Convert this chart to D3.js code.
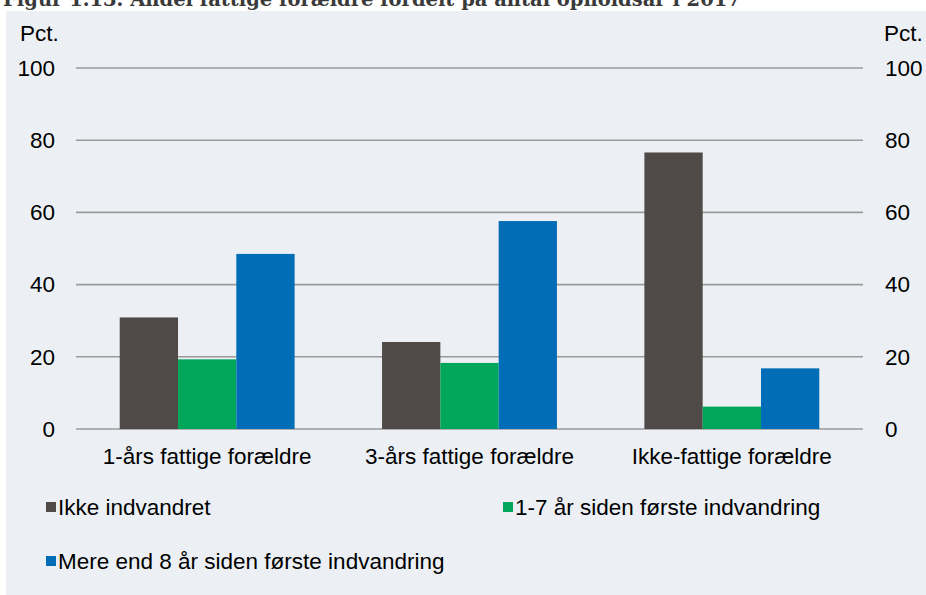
<!DOCTYPE html>
<html>
<head>
<meta charset="utf-8">
<script src="https://cdn.jsdelivr.net/npm/d3@7"></script>
<style>
  html, body { margin: 0; padding: 0; background: #ffffff; }
  svg { display: block; }
  text { font-family: "Liberation Sans", Arial, sans-serif; fill: #000; }
</style>
</head>
<body>
<svg id="chart" width="926" height="595"></svg>
<script>
// Andel fattige forældre fordelt på opholdsår
const categories = ["1-års fattige forældre", "3-års fattige forældre", "Ikke-fattige forældre"];
const seriesNames = ["Ikke indvandret", "1-7 år siden første indvandring", "Mere end 8 år siden første indvandring"];
const ikkeIndvandret = [30.9, 24.1, 76.6];
const aar1til7 = [19.3, 18.3, 6.2];
const merEnd8 = [48.5, 57.6, 16.8];
const yTicks = [0, 20, 40, 60, 80, 100];
const colors = ["#4F4A47", "#00A65A", "#006DB6"];

const seriesValues = [ikkeIndvandret, aar1til7, merEnd8];
const rows = categories.map((c, i) => ({ cat: c, values: seriesValues.map(s => s[i]) }));

const FONT = "'Liberation Sans', Arial, sans-serif";
const FS = "22.5px";

const svg = d3.select("#chart");

// figure title above the panel
svg.append("text")
  .attr("x", 3).attr("y", 6)
  .style("font-family", "'DejaVu Serif', 'Liberation Serif', serif")
  .style("font-weight", "bold")
  .style("font-size", "19.5px")
  .style("fill", "#3a3a3a")
  .text("Figur 1.13. Andel fattige forældre fordelt på antal opholdsår i 2017");

// panel background
svg.append("rect")
  .attr("x", 6).attr("y", 11).attr("width", 920).attr("height", 584)
  .attr("fill", "#ECF0F4");

const x0 = d3.scaleBand().domain(categories).range([76, 863]).paddingInner(0).paddingOuter(0);
const x1 = d3.scaleBand().domain(d3.range(seriesNames.length)).range([0, x0.bandwidth()]).paddingInner(0).paddingOuter(0.75);
const y = d3.scaleLinear().domain([0, 100]).range([429, 68]);

// gridlines
svg.append("g").selectAll("line").data(yTicks).join("line")
  .attr("x1", 76).attr("x2", 863)
  .attr("y1", d => y(d)).attr("y2", d => y(d))
  .attr("stroke", "#9a9a9a").attr("stroke-width", 1.6);

// left axis labels
const leftAxis = d3.axisLeft(y).tickValues(yTicks).tickSize(0).tickPadding(0);
const gl = svg.append("g").attr("transform", "translate(55,0)").call(leftAxis);
gl.select(".domain").remove();
gl.selectAll("text").attr("x", 0).style("font-size", FS).style("font-family", FONT).attr("fill", "#000");

// right axis labels
const rightAxis = d3.axisRight(y).tickValues(yTicks).tickSize(0).tickPadding(0);
const gr = svg.append("g").attr("transform", "translate(885,0)").call(rightAxis);
gr.select(".domain").remove();
gr.selectAll("text").attr("x", 0).style("font-size", FS).style("font-family", FONT).attr("fill", "#000");

// unit labels
svg.append("text").attr("x", 20).attr("y", 41).style("font-size", FS).text("Pct.");
svg.append("text").attr("x", 884).attr("y", 41).style("font-size", FS).text("Pct.");

// bars
const groups = svg.append("g").selectAll("g").data(rows).join("g")
  .attr("transform", d => `translate(${x0(d.cat)},0)`);
groups.selectAll("rect").data(d => d.values.map((v, i) => ({ v, i }))).join("rect")
  .attr("x", d => x1(d.i))
  .attr("width", x1.bandwidth())
  .attr("y", d => y(d.v))
  .attr("height", d => y(0) - y(d.v))
  .attr("fill", d => colors[d.i]);

// category axis
const bottomAxis = d3.axisBottom(x0).tickSize(0).tickPadding(0);
const gb = svg.append("g").attr("transform", "translate(0,448)").call(bottomAxis);
gb.select(".domain").remove();
gb.selectAll("text").style("font-size", FS).style("font-family", FONT).attr("fill", "#000");

// legend
const legendPos = [[46, 507], [503, 507], [46, 561]];
const lg = svg.append("g").selectAll("g").data(seriesNames).join("g")
  .attr("transform", (d, i) => `translate(${legendPos[i][0]},${legendPos[i][1]})`);
lg.append("rect").attr("x", 0).attr("y", -5).attr("width", 10).attr("height", 10)
  .attr("fill", (d, i) => colors[i]);
lg.append("text").attr("x", 12).attr("y", 8).style("font-size", FS).text(d => d);
</script>
</body>
</html>
